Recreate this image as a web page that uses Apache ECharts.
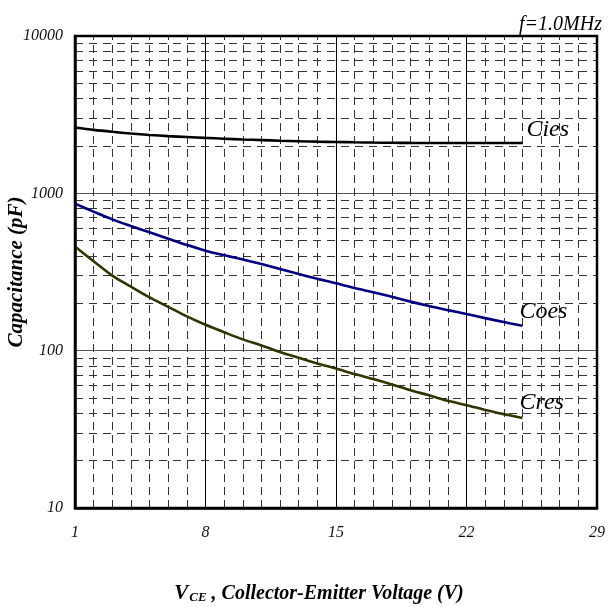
<!DOCTYPE html>
<html>
<head>
<meta charset="utf-8">
<script src="https://cdn.jsdelivr.net/npm/echarts@6/dist/echarts.min.js"></script>
<style>html,body{margin:0;padding:0;background:#fff}#c{width:609px;height:607px}</style>
</head>
<body>
<div id="c"></div>
<script>
// Data
var vce = [1,2,3,4,5,6,7,8,9,10,11,12,13,14,15,16,17,18,19,20,21,22,23,24,25];
var cies = [2620,2530,2460,2400,2350,2310,2280,2250,2225,2200,2180,2160,2145,2130,2120,2110,2102,2096,2092,2090,2090,2090,2090,2090,2090];
var coes = [860,765,683,620,565,515,470,432,404,380,355,330,307,286,268,250,235,220,205,192,181,171,161,152,144];
var cres = [460,370,300,255,218,190,165,146,131,118,108,98,90,83,77,71,66,61,56,52,48,45,42,39.5,37.3];
var xTicks = {min: 1, max: 29, interval: 7};
var yTicks = {min: 10, max: 10000};
var xMinor = [2,3,4,5,6,7,9,10,11,12,13,14,16,17,18,19,20,21,23,24,25,26,27,28];
var yMinor = [20,30,40,50,60,70,80,90,200,300,400,500,600,700,800,900,2000,3000,4000,5000,6000,7000,8000,9000];
var seriesNames = ['Cies','Coes','Cres'];
var seriesColors = ['#000000','#000080','#333300'];

var serif = 'Liberation Serif, Times New Roman, serif';
function pairs(ys){ return vce.map(function(x,i){ return [x, ys[i]]; }); }

var minorLines = [];
xMinor.forEach(function(v){ minorLines.push({xAxis: v, lineStyle:{type:[8,5]}}); });
yMinor.forEach(function(v){ minorLines.push({yAxis: v, lineStyle:{type:[8,6]}}); });

function curve(idx, ys, offset){
  return {
    name: seriesNames[idx], type: 'line', data: pairs(ys), smooth: 0.3,
    showSymbol: false, symbol: 'none', z: 5,
    lineStyle: {color: seriesColors[idx], width: 2.6},
    endLabel: {show: true, formatter: seriesNames[idx], color: '#000', distance: 0,
      offset: offset, fontFamily: serif, fontStyle: 'italic', fontSize: 24}
  };
}

var chart = echarts.init(document.getElementById('c'));
chart.setOption({
  animation: false,
  backgroundColor: '#fff',
  title: {text: 'f=1.0MHz', right: 2, top: 10,
    textStyle: {fontFamily: serif, fontStyle: 'italic', fontWeight: 'normal', fontSize: 20, color: '#000'}},
  grid: {left: 75, right: 12, top: 36, bottom: 99, show: true, borderColor: '#000', borderWidth: 2.5, z: 10,
    containLabel: false, outerBoundsMode: 'none'},
  xAxis: {
    type: 'value', min: xTicks.min, max: xTicks.max, interval: xTicks.interval,
    name: '{v|V}{s|CE}{t| , Collector-Emitter Voltage (V)}',
    nameLocation: 'middle', nameGap: 75, nameMoveOverlap: false,
    nameTextStyle: {padding: [0, 34, 0, 0], rich: {
      v: {fontFamily: serif, fontStyle: 'italic', fontWeight: 'bold', fontSize: 21, color: '#000'},
      s: {fontFamily: serif, fontStyle: 'italic', fontWeight: 'bold', fontSize: 13, color: '#000', padding: [8,0,0,1]},
      t: {fontFamily: serif, fontStyle: 'italic', fontWeight: 'bold', fontSize: 20, color: '#000'}
    }},
    axisLine: {show: true, onZero: false, lineStyle: {color: '#000', width: 2.5}},
    axisTick: {show: false},
    axisLabel: {margin: 17, fontFamily: serif, fontStyle: 'italic', fontSize: 16, color: '#111'},
    splitLine: {show: true, lineStyle: {color: '#000', width: 1}}
  },
  yAxis: {
    type: 'log', logBase: 10, min: yTicks.min, max: yTicks.max,
    name: 'Capacitance (pF)', nameLocation: 'middle', nameGap: 48, nameMoveOverlap: false,
    nameTextStyle: {fontFamily: serif, fontStyle: 'italic', fontWeight: 'bold', fontSize: 21, color: '#000'},
    axisLine: {show: true, lineStyle: {color: '#000', width: 2.5}},
    axisTick: {show: false},
    axisLabel: {margin: 12, fontFamily: serif, fontStyle: 'italic', fontSize: 16, color: '#111',
      formatter: function(v){ return String(v); }},
    splitLine: {show: true, lineStyle: {color: '#555', width: 1}}
  },
  series: [
    {type: 'line', data: [], silent: true, z: 1,
      markLine: {silent: true, symbol: 'none', animation: false, label: {show: false},
        lineStyle: {color: '#333', width: 1}, data: minorLines}},
    curve(0, cies, [4, -13]),
    curve(1, coes, [-3, -14]),
    curve(2, cres, [-3, -15])
  ]
});
</script>
</body>
</html>
